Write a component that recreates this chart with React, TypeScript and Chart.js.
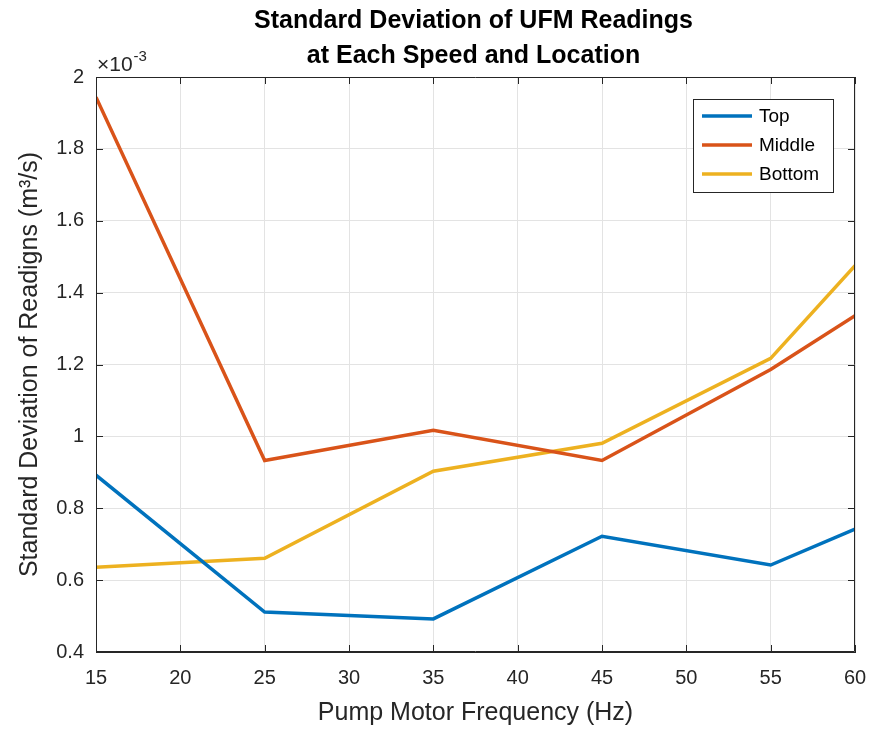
import React, { useEffect, useRef } from "react";
import { Chart, registerables } from "chart.js";

Chart.register(...registerables);

// Pump motor frequency (Hz)
const frequencies = [15, 25, 35, 45, 55, 60];
// Standard deviation of readings, in units of 1e-3 m^3/s
const topValues = [0.892, 0.511, 0.492, 0.722, 0.642, 0.742];
const middleValues = [1.944, 0.933, 1.017, 0.933, 1.186, 1.336];
const bottomValues = [0.636, 0.661, 0.903, 0.981, 1.217, 1.475];

const seriesNames = ["Top", "Middle", "Bottom"];
const seriesColors = ["#0072BD", "#D95319", "#EDB120"];
const titleLines = ["Standard Deviation of UFM Readings", "at Each Speed and Location"];
const xTitle = "Pump Motor Frequency (Hz)";
const yTitle = "Standard Deviation of Readigns (m\u00B3/s)";

const FONT = "'Liberation Sans', Arial, Helvetica, sans-serif";
const AXIS = "#262626";

const decorPlugin = {
  id: "matlabDecor",
  afterDraw(chart: any) {
    const ctx = chart.ctx;
    const { left, right, top, bottom } = chart.chartArea;
    const xs = chart.scales.x;
    const ys = chart.scales.y;
    ctx.save();
    // box
    ctx.strokeStyle = AXIS;
    ctx.lineWidth = 1;
    ctx.beginPath();
    ctx.rect(left + 0.5, top + 0.5, right - left - 1, bottom - top - 1);
    ctx.stroke();
    // inward ticks
    const tl = 7;
    ctx.beginPath();
    xs.ticks.forEach((t: any) => {
      const px = Math.round(xs.getPixelForValue(t.value)) + 0.5;
      ctx.moveTo(px, bottom);
      ctx.lineTo(px, bottom - tl);
      ctx.moveTo(px, top);
      ctx.lineTo(px, top + tl);
    });
    ys.ticks.forEach((t: any) => {
      const py = Math.round(ys.getPixelForValue(t.value)) + 0.5;
      ctx.moveTo(left, py);
      ctx.lineTo(left + tl, py);
      ctx.moveTo(right, py);
      ctx.lineTo(right - tl, py);
    });
    ctx.stroke();

    // title
    ctx.fillStyle = "#000";
    ctx.textAlign = "center";
    ctx.textBaseline = "alphabetic";
    ctx.font = `bold 25px ${FONT}`;
    const cx = (left + right) / 2 - 2;
    ctx.fillText(titleLines[0], cx, 28);
    ctx.fillText(titleLines[1], cx, 63);

    // exponent label
    ctx.fillStyle = AXIS;
    ctx.textAlign = "left";
    ctx.font = `21px ${FONT}`;
    ctx.fillText("\u00D710", left + 1, 71);
    const w = ctx.measureText("\u00D710").width;
    ctx.font = `15px ${FONT}`;
    ctx.fillText("-3", left + 1 + w + 1, 61);

    // legend
    const lx = 693, ly = 99, lw = 140, lh = 93;
    ctx.fillStyle = "#fff";
    ctx.fillRect(lx, ly, lw, lh);
    ctx.strokeStyle = AXIS;
    ctx.lineWidth = 1;
    ctx.strokeRect(lx + 0.5, ly + 0.5, lw, lh);
    const rows = [116, 145, 174];
    ctx.font = `19px ${FONT}`;
    ctx.textBaseline = "middle";
    seriesNames.forEach((name, i) => {
      ctx.strokeStyle = seriesColors[i];
      ctx.lineWidth = 3.5;
      ctx.beginPath();
      ctx.moveTo(702, rows[i]);
      ctx.lineTo(752, rows[i]);
      ctx.stroke();
      ctx.fillStyle = "#000";
      ctx.fillText(name, 759, rows[i] + 1);
    });
    ctx.restore();
  },
};

export default function App() {
  const ref = useRef<HTMLCanvasElement>(null);
  useEffect(() => {
    if (!ref.current) return;
    const mk = (vals: number[], i: number) => ({
      label: seriesNames[i],
      data: frequencies.map((f, k) => ({ x: f, y: vals[k] })),
      borderColor: seriesColors[i],
      backgroundColor: seriesColors[i],
      borderWidth: 3.5,
      pointRadius: 0,
      tension: 0,
      fill: false,
    });
    const chart = new Chart(ref.current, {
      type: "line",
      data: {
        datasets: [mk(topValues, 0), mk(middleValues, 1), mk(bottomValues, 2)],
      },
      options: {
        responsive: false,
        animation: false,
        devicePixelRatio: 1,
        layout: { padding: { top: 77, right: 17, left: 0, bottom: 0 } },
        plugins: {
          legend: { display: false },
          tooltip: { enabled: false },
          title: { display: false },
        },
        scales: {
          x: {
            type: "linear",
            min: 15,
            max: 60,
            afterFit: (s: any) => {
              s.height = 79;
              s.paddingLeft = 0;
              s.paddingRight = 0;
            },
            ticks: {
              stepSize: 5,
              padding: 14,
              color: AXIS,
              font: { family: FONT, size: 20 },
              maxRotation: 0,
            },
            grid: { color: "#e3e3e3", lineWidth: 1, drawTicks: false },
            border: { display: true, color: AXIS, width: 1 },
            title: {
              display: true,
              text: xTitle,
              color: AXIS,
              font: { family: FONT, size: 25 },
              padding: { top: 0, bottom: 3 },
            },
          },
          y: {
            type: "linear",
            min: 0.4,
            max: 2,
            afterFit: (s: any) => {
              s.width = 96;
              s.paddingTop = 0;
              s.paddingBottom = 0;
            },
            ticks: {
              stepSize: 0.2,
              padding: 12,
              color: AXIS,
              font: { family: FONT, size: 20 },
              callback: (v: any) => String(Number(Number(v).toFixed(1))),
            },
            grid: { color: "#e3e3e3", lineWidth: 1, drawTicks: false },
            border: { display: true, color: AXIS, width: 1 },
            title: {
              display: true,
              text: yTitle,
              color: AXIS,
              font: { family: FONT, size: 25 },
              padding: { top: 15, bottom: 0 },
            },
          },
        },
      },
      plugins: [decorPlugin],
    });
    return () => chart.destroy();
  }, []);
  return (
    <div style={{ position: "absolute", left: 0, top: 0, width: 872, height: 731, background: "#fff" }}>
      <canvas ref={ref} width={872} height={731} style={{ width: 872, height: 731, display: "block" }} />
    </div>
  );
}
